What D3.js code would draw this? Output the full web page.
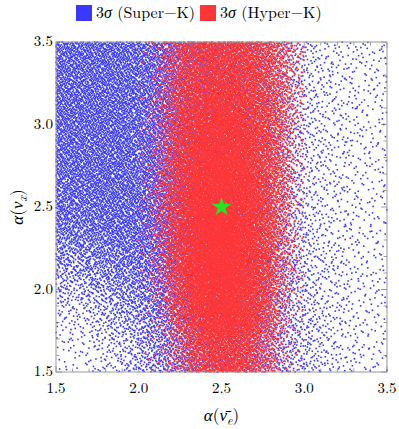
<!DOCTYPE html>
<html>
<head>
<meta charset="utf-8">
<script src="https://cdn.jsdelivr.net/npm/d3@7"></script>
<style>
  body { margin: 0; background: #fff; }
</style>
</head>
<body>
<div id="chart"></div>
<script>
const width = 399;
const height = 429;
const margin = { top: 42, left: 56, right: 12, bottom: 57 };
const serif = "Latin Modern Roman";

// axis ticks
const xTicks = [1.5, 2.0, 2.5, 3.0, 3.5];
const yTicks = [1.5, 2.0, 2.5, 3.0, 3.5];

// Super-K sample: points per cell, bin edges in alpha, rows from top (3.5) to bottom (1.5)
const blueXEdges = [1.5, 1.75, 2.0, 2.25, 2.5, 2.75, 3.0, 3.25, 3.5];
const blueYEdges = [3.5, 3.25, 3.0, 2.75, 2.5, 2.25, 2.0, 1.75, 1.5];
const blueCounts = [
  [620, 620, 560, 420, 300, 170, 80, 55],
  [620, 620, 560, 420, 300, 165, 80, 50],
  [620, 620, 560, 420, 300, 165, 80, 50],
  [600, 620, 560, 420, 300, 170, 80, 45],
  [520, 600, 560, 420, 300, 180, 85, 45],
  [300, 450, 520, 420, 320, 200, 90, 50],
  [110, 260, 430, 400, 320, 210, 100, 50],
  [35, 120, 330, 380, 320, 220, 100, 45]
];

// Hyper-K sample
const redXEdges = [2.0, 2.1, 2.2, 2.3, 2.4, 2.5, 2.6, 2.7, 2.8, 2.9, 3.0];
const redYEdges = [3.5, 3.25, 3.0, 2.75, 2.5, 2.25, 2.0, 1.75, 1.5];
const redCounts = [
  [10, 80, 250, 380, 420, 420, 380, 300, 180, 50],
  [15, 100, 300, 450, 500, 500, 450, 350, 200, 50],
  [20, 120, 350, 500, 560, 560, 500, 380, 200, 40],
  [25, 140, 380, 560, 620, 620, 540, 400, 200, 35],
  [25, 140, 400, 580, 650, 650, 560, 400, 180, 30],
  [20, 120, 380, 560, 650, 650, 560, 380, 150, 25],
  [10, 70, 280, 480, 600, 620, 520, 330, 110, 15],
  [5, 30, 120, 260, 380, 400, 340, 200, 60, 10]
];

const truePoint = [2.5, 2.5];

const legendLabels = ["Super−K", "Hyper−K"];
const blue = "#3a3aff";
const red = "#ff3636";

// leaped halton sequence, used instead of random draws
function halton(i, b) {
  let f = 1, r = 0;
  while (i > 0) { f /= b; r += f * (i % b); i = Math.floor(i / b); }
  return r;
}
const leap = 409;

// spread points so the local density follows the binned counts
function samplePoints(xEdges, yEdges, counts, start) {
  const mids = e => e.slice(1).map((v, i) => (v + e[i]) / 2);
  const ix = d3.scaleLinear().domain(mids(xEdges)).range(d3.range(xEdges.length - 1)).clamp(true);
  const iy = d3.scaleLinear().domain(mids(yEdges)).range(d3.range(yEdges.length - 1)).clamp(true);
  const nx = xEdges.length - 1, ny = yEdges.length - 1;
  const maxC = d3.max(counts.flat());
  const dens = (px, py) => {
    const fx = ix(px), fy = iy(py);
    const i0 = Math.floor(fx), j0 = Math.floor(fy);
    const i1 = Math.min(i0 + 1, nx - 1), j1 = Math.min(j0 + 1, ny - 1);
    const tx = fx - i0, ty = fy - j0;
    const a = counts[j0][i0] * (1 - tx) + counts[j0][i1] * tx;
    const b = counts[j1][i0] * (1 - tx) + counts[j1][i1] * tx;
    return a * (1 - ty) + b * ty;
  };
  const x0 = xEdges[0], x1 = xEdges[nx];
  const y0 = yEdges[ny], y1 = yEdges[0];
  const nTry = maxC * nx * ny;
  const pts = [];
  for (let k = start; k < start + nTry; k++) {
    const idx = k * leap;
    const px = x0 + (x1 - x0) * halton(idx, 2);
    const py = y0 + (y1 - y0) * halton(idx, 3);
    if (halton(idx, 5) * maxC < dens(px, py)) pts.push({ x: px, y: py });
  }
  return pts;
}

const bluePts = samplePoints(blueXEdges, blueYEdges, blueCounts, 1);
const redPts = samplePoints(redXEdges, redYEdges, redCounts, 60001);

const x = d3.scaleLinear().domain([1.5, 3.5]).range([margin.left, width - margin.right]);
const y = d3.scaleLinear().domain([1.5, 3.5]).range([height - margin.bottom, margin.top]);

const svg = d3.select("#chart").append("svg")
  .attr("width", width).attr("height", height)
  .attr("font-family", serif);

// ticks on all four sides, pointing in
const minor = d3.range(15, 36).map(d => d / 10);
const tickG = svg.append("g").attr("stroke", "#888").attr("stroke-width", 0.8);
minor.forEach(v => {
  const isMajor = Math.abs(v * 2 - Math.round(v * 2)) < 1e-6;
  const len = isMajor ? 6 : 3.5;
  tickG.append("line").attr("x1", x(v)).attr("x2", x(v)).attr("y1", y(1.5)).attr("y2", y(1.5) - len);
  tickG.append("line").attr("x1", x(v)).attr("x2", x(v)).attr("y1", y(3.5)).attr("y2", y(3.5) + len);
  tickG.append("line").attr("y1", y(v)).attr("y2", y(v)).attr("x1", x(1.5)).attr("x2", x(1.5) + len);
  tickG.append("line").attr("y1", y(v)).attr("y2", y(v)).attr("x1", x(3.5)).attr("x2", x(3.5) - len);
});

svg.append("g").selectAll("rect")
  .data(bluePts)
  .join("rect")
  .attr("x", d => x(d.x) - 0.8)
  .attr("y", d => y(d.y) - 0.8)
  .attr("width", 1.6)
  .attr("height", 1.6)
  .attr("fill", blue);

svg.append("g").selectAll("rect")
  .data(redPts)
  .join("rect")
  .attr("x", d => x(d.x) - 0.8)
  .attr("y", d => y(d.y) - 0.8)
  .attr("width", 1.6)
  .attr("height", 1.6)
  .attr("fill", red);

// frame
svg.append("rect")
  .attr("x", x(1.5)).attr("y", y(3.5))
  .attr("width", x(3.5) - x(1.5)).attr("height", y(1.5) - y(3.5))
  .attr("fill", "none").attr("stroke", "#999").attr("stroke-width", 1);

// star for the true value
const star = d3.symbol().type(d3.symbolStar).size(120);
svg.append("path")
  .attr("d", star())
  .attr("transform", `translate(${x(truePoint[0])},${y(truePoint[1])})`)
  .attr("fill", "#22e622");

// tick labels
svg.append("g").selectAll("text")
  .data(xTicks)
  .join("text")
  .attr("font-family", serif)
  .attr("x", d => x(d))
  .attr("y", y(1.5) + 21)
  .attr("text-anchor", "middle")
  .attr("font-size", 15)
  .text(d => d.toFixed(1));

svg.append("g").selectAll("text")
  .data(yTicks)
  .join("text")
  .attr("font-family", serif)
  .attr("x", x(1.5) - 3)
  .attr("y", d => y(d) + 4)
  .attr("text-anchor", "end")
  .attr("font-size", 15)
  .text(d => d.toFixed(1));

// axis titles
const xTitle = svg.append("text")
  .attr("font-family", serif)
  .attr("x", x(2.5))
  .attr("y", height - 8)
  .attr("text-anchor", "middle")
  .attr("font-size", 17);
xTitle.append("tspan").attr("font-style", "italic").text("α");
xTitle.append("tspan").text("(");
xTitle.append("tspan").attr("font-style", "italic").text("ν\u0304");
xTitle.append("tspan").attr("font-style", "italic").attr("font-size", 12).attr("dy", 4).text("e");
xTitle.append("tspan").attr("dy", -4).text(")");

const yTitle = svg.append("text")
  .attr("font-family", serif)
  .attr("transform", `translate(23,${y(2.5)}) rotate(-90)`)
  .attr("text-anchor", "middle")
  .attr("font-size", 17);
yTitle.append("tspan").attr("font-style", "italic").text("α");
yTitle.append("tspan").text("(");
yTitle.append("tspan").attr("font-style", "italic").text("ν");
yTitle.append("tspan").attr("font-style", "italic").attr("font-size", 12).attr("dy", 4).text("x");
yTitle.append("tspan").attr("dy", -4).text(")");

// legend
const legendX = [76, 200];
const legendColors = [blue, red];
legendLabels.forEach((lab, i) => {
  svg.append("rect")
    .attr("x", legendX[i]).attr("y", 5)
    .attr("width", 16).attr("height", 16)
    .attr("fill", legendColors[i]);
  const t = svg.append("text")
    .attr("font-family", serif)
    .attr("x", legendX[i] + 20)
    .attr("y", 18)
    .attr("font-size", 16);
  t.append("tspan").text("3");
  t.append("tspan").attr("font-style", "italic").text("σ");
  t.append("tspan").text(" (" + lab + ")");
});
</script>
</body>
</html>
